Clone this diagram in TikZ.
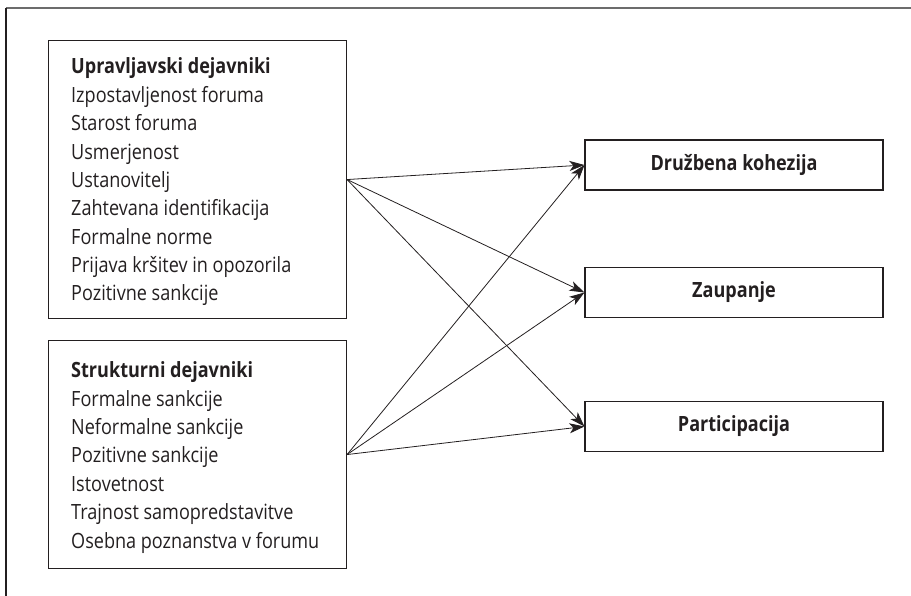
\documentclass[tikz,border=0pt]{standalone}
\usepackage{fontspec}
\setmainfont{Open Sans}[FakeStretch=0.86]
\usetikzlibrary{arrows.meta}
\definecolor{ink}{HTML}{231F20}
\tikzset{
  box/.style={draw=ink, line width=1.1pt, rectangle, inner sep=0pt, anchor=north west},
  itemtext/.style={anchor=base west, align=left, inner sep=0pt, font=\fontsize{21}{28.4}\selectfont, text=ink},
  outbox/.style={draw=ink, line width=1.1pt, rectangle, inner sep=0pt, minimum width=298pt, minimum height=50pt,
                 font=\bfseries\fontsize{21}{24}\selectfont, text=ink},
  link/.style={draw=ink, line width=0.8pt, -{Stealth[length=15pt,width=10pt,inset=4pt]}}
}
\begin{document}
\begin{tikzpicture}[x=1pt,y=-1pt]
\useasboundingbox (0,0) rectangle (911,596);
\draw[line width=1.2pt, draw=gray!85!black] (6,8) -- (911,8);
\draw[line width=1.2pt, draw=ink] (6,8) -- (6,596);

\node[box, minimum width=298pt, minimum height=278pt] (b1) at (48,40) {};
\node[itemtext] (t1) at (71,301) {\textbf{Upravljavski dejavniki}\\Izpostavljenost foruma\\Starost foruma\\Usmerjenost\\Ustanovitelj\\Zahtevana identifikacija\\Formalne norme\\Prijava kršitev in opozorila\\Pozitivne sankcije};

\node[box, minimum width=298pt, minimum height=228pt] (b2) at (48,340) {};
\node[itemtext] (t2) at (71,548) {\textbf{Strukturni dejavniki}\\Formalne sankcije\\Neformalne sankcije\\Pozitivne sankcije\\Istovetnost\\Trajnost samopredstavitve\\Osebna poznanstva v forumu};

\node[outbox] (o1) at (734,165) {Družbena kohezija};
\node[outbox] (o2) at (734,292.5) {Zaupanje};
\node[outbox] (o3) at (734,426.5) {Participacija};

\draw[link] (b1.east) -- (o1.west);
\draw[link] (b1.east) -- (o2.west);
\draw[link] (b1.east) -- (o3.west);
\draw[link] (b2.east) -- (o1.west);
\draw[link] (b2.east) -- (o2.west);
\draw[link] (b2.east) -- (o3.west);
\end{tikzpicture}
\end{document}
